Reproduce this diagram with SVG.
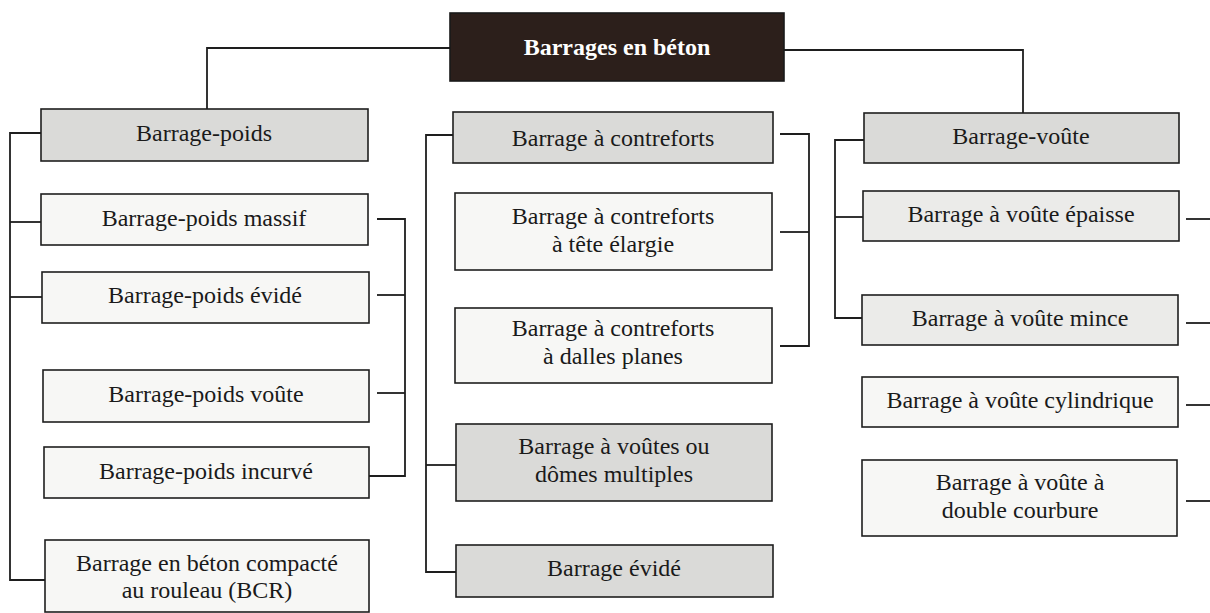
<svg xmlns="http://www.w3.org/2000/svg" width="1210" height="613" viewBox="0 0 1210 613">
<style>
.box{stroke:#1e1e1e;stroke-width:1.6}
.g1{fill:#dadad8}
.g2{fill:#ebebe9}
.w{fill:#f7f7f5}
.root{fill:#2c1f1b;stroke:#1a1a1a;stroke-width:1.6}
.t{font-family:"Liberation Serif","Times New Roman",serif;font-size:24px;fill:#1a1a1a;text-anchor:middle}
.rt{font-family:"Liberation Serif","Times New Roman",serif;font-size:24px;font-weight:bold;fill:#ffffff;text-anchor:middle}
.c{fill:none;stroke:#1e1e1e;stroke-width:1.8}
</style>
<rect width="1210" height="613" fill="#ffffff"/>
<g id="connectors" class="c">
<path d="M450 48 H207 V109"/>
<path d="M784 50 H1023 V113"/>
<path d="M41 133 H10 V580 H45"/>
<path d="M10 222 H41"/>
<path d="M10 297 H42"/>
<path d="M377 219 H405 V476 H369"/>
<path d="M377 295 H405"/>
<path d="M377 393 H405"/>
<path d="M453 135 H426 V572 H456"/>
<path d="M426 465 H456"/>
<path d="M780 134 H809 V346 H780"/>
<path d="M780 232 H809"/>
<path d="M864 140 H835 V318 H862"/>
<path d="M835 217 H863"/>
<path d="M1186 219 H1210"/>
<path d="M1186 323 H1210"/>
<path d="M1186 405 H1210"/>
<path d="M1186 501 H1210"/>
</g>
<g id="root">
<rect class="root" x="450" y="13" width="334" height="68"/>
<text class="rt" x="617" y="55">Barrages en béton</text>
</g>
<g id="barrage-poids">
<rect class="box g1" x="41" y="109" width="327" height="52"/>
<text class="t" x="204" y="141">Barrage-poids</text>
</g>
<g id="poids-massif">
<rect class="box w" x="41" y="194" width="327" height="51"/>
<text class="t" x="204" y="226">Barrage-poids massif</text>
</g>
<g id="poids-evide">
<rect class="box w" x="42" y="272" width="327" height="51"/>
<text class="t" x="205" y="303">Barrage-poids évidé</text>
</g>
<g id="poids-voute">
<rect class="box w" x="43" y="370" width="326" height="52"/>
<text class="t" x="206" y="402">Barrage-poids voûte</text>
</g>
<g id="poids-incurve">
<rect class="box w" x="44" y="447" width="325" height="51"/>
<text class="t" x="206" y="479">Barrage-poids incurvé</text>
</g>
<g id="bcr">
<rect class="box w" x="45" y="540" width="324" height="72"/>
<text class="t" x="207" y="571">Barrage en béton compacté</text>
<text class="t" x="207" y="598">au rouleau (BCR)</text>
</g>
<g id="contreforts">
<rect class="box g1" x="453" y="112" width="320" height="51"/>
<text class="t" x="613" y="146">Barrage à contreforts</text>
</g>
<g id="contreforts-tete">
<rect class="box w" x="455" y="193" width="317" height="77"/>
<text class="t" x="613" y="224">Barrage à contreforts</text>
<text class="t" x="613" y="252">à tête élargie</text>
</g>
<g id="contreforts-dalles">
<rect class="box w" x="455" y="308" width="317" height="75"/>
<text class="t" x="613" y="336">Barrage à contreforts</text>
<text class="t" x="613" y="364">à dalles planes</text>
</g>
<g id="domes-multiples">
<rect class="box g1" x="456" y="424" width="316" height="77"/>
<text class="t" x="614" y="454">Barrage à voûtes ou</text>
<text class="t" x="614" y="482">dômes multiples</text>
</g>
<g id="barrage-evide">
<rect class="box g1" x="456" y="545" width="317" height="52"/>
<text class="t" x="614" y="576">Barrage évidé</text>
</g>
<g id="barrage-voute">
<rect class="box g1" x="864" y="113" width="315" height="50"/>
<text class="t" x="1021" y="144">Barrage-voûte</text>
</g>
<g id="voute-epaisse">
<rect class="box g2" x="863" y="191" width="316" height="50"/>
<text class="t" x="1021" y="222">Barrage à voûte épaisse</text>
</g>
<g id="voute-mince">
<rect class="box g2" x="862" y="295" width="316" height="50"/>
<text class="t" x="1020" y="326">Barrage à voûte mince</text>
</g>
<g id="voute-cylindrique">
<rect class="box w" x="862" y="377" width="316" height="50"/>
<text class="t" x="1020" y="408">Barrage à voûte cylindrique</text>
</g>
<g id="voute-double">
<rect class="box w" x="862" y="460" width="315" height="76"/>
<text class="t" x="1020" y="490">Barrage à voûte à</text>
<text class="t" x="1020" y="518">double courbure</text>
</g>
</svg>
